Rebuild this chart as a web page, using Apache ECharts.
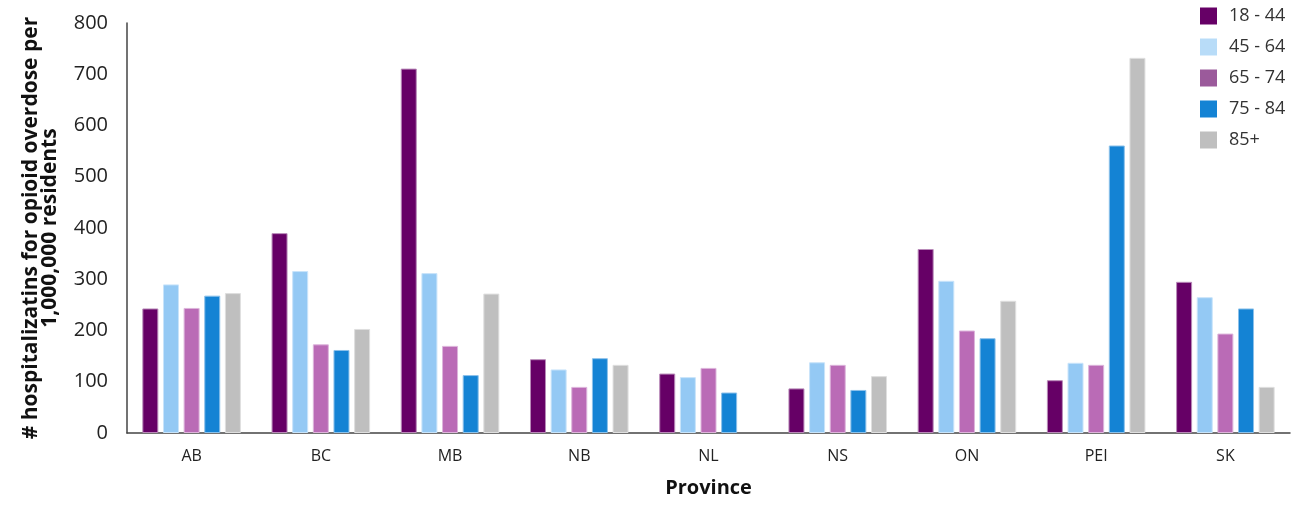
<!DOCTYPE html>
<html>
<head>
<meta charset="utf-8">
<script src="https://cdn.jsdelivr.net/npm/echarts@6/dist/echarts.min.js"></script>
<style>html,body{margin:0;padding:0;background:#fff;}#c{width:1301px;height:505px;}</style>
</head>
<body>
<div id="c"></div>
<script>
const provinces = ['AB','BC','MB','NB','NL','NS','ON','PEI','SK'];
const age18_44 = [243, 390, 711, 144, 116, 87, 359, 103, 295];
const age45_64 = [290, 316, 312, 124, 109, 138, 297, 137, 265];
const age65_74 = [244, 173, 170, 90, 127, 133, 200, 133, 194];
const age75_84 = [268, 162, 113, 146, 79, 84, 185, 561, 243];
const age85p   = [273, 203, 272, 133, null, 111, 258, 732, 90];
const seriesNames = ['18 - 44','45 - 64','65 - 74','75 - 84','85+'];
const yTicks = [0, 100, 200, 300, 400, 500, 600, 700, 800];

const barColors = ['#660066','#94C9F4','#BA6BB6','#1483D4','#BFBFBF'];
const legendColors = ['#660066','#B8DCF8','#9B5A9B','#1483D4','#BFBFBF'];
const borderColors = ['#B98AB9','#C9E4FA','#DDB5DB','#8CC1EA','#DFDFDF'];
const dataSets = [age18_44, age45_64, age65_74, age75_84, age85p];
const font = '"Open Sans", "Noto Sans", sans-serif';

const chart = echarts.init(document.getElementById('c'), null, {renderer: 'canvas'});
chart.setOption({
  animation: false,
  grid: {left: 127, right: 11, top: 23, bottom: 72, containLabel: false, outerBoundsMode: 'none'},
  legend: {
    orient: 'vertical', left: 1200, top: 7, padding: 0,
    itemWidth: 17, itemHeight: 17, itemGap: 13,
    icon: 'rect',
    textStyle: {fontFamily: font, fontSize: 18, color: '#333', padding: [0,0,0,7]},
    data: seriesNames.map((n, i) => ({name: n, itemStyle: {color: legendColors[i], borderWidth: 0}}))
  },
  xAxis: {
    type: 'category',
    data: provinces,
    name: 'Province',
    nameLocation: 'middle',
    nameGap: 45,
    nameTextStyle: {fontFamily: font, fontSize: 20, fontWeight: 'bold', color: '#111'},
    axisLine: {lineStyle: {color: '#444', width: 1.5}},
    axisTick: {show: false},
    axisLabel: {fontFamily: font, fontSize: 16, color: '#222', margin: 15}
  },
  yAxis: {
    type: 'value',
    min: 0, max: 800, interval: 100,
    name: '# hospitalizatins for opioid overdose per\n1,000,000 residents',
    nameLocation: 'middle',
    nameRotate: 90,
    nameGap: 67,
    nameTextStyle: {fontFamily: font, fontSize: 21, fontWeight: 'bold', color: '#111', lineHeight: 19},
    axisLine: {show: true, lineStyle: {color: '#444', width: 1.5}},
    axisTick: {show: false},
    splitLine: {show: false},
    axisLabel: {fontFamily: font, fontSize: 20, color: '#222', margin: 19,
      formatter: v => yTicks.includes(v) ? String(v) : ''}
  },
  series: dataSets.map((d, i) => ({
    name: seriesNames[i],
    type: 'bar',
    data: d,
    barWidth: 16,
    barGap: '29%',
    itemStyle: {color: barColors[i], borderColor: borderColors[i], borderWidth: 1}
  }))
});
</script>
</body>
</html>
